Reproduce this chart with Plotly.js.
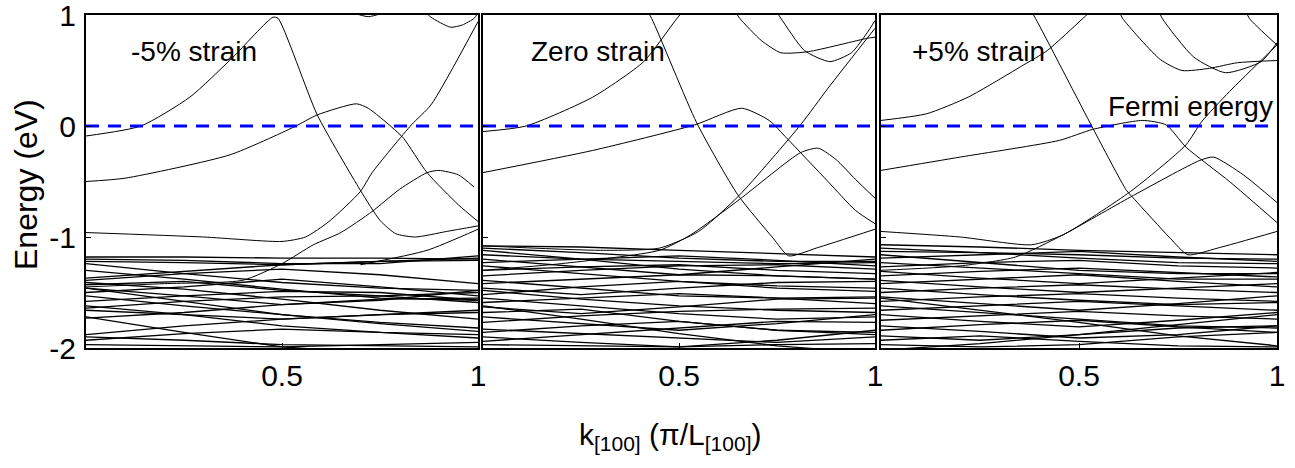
<!DOCTYPE html>
<html>
<head>
<meta charset="utf-8">
<script src="https://cdn.plot.ly/plotly-3.0.1.min.js"></script>
<style>html,body{margin:0;padding:0;background:#fff;} #plot{width:1295px;height:468px;}</style>
</head>
<body>
<div id="plot"></div>
<script>
// ---------- data (k in pi/L, energy in eV) ----------
const panelTitles = ["-5% strain", "Zero strain", "+5% strain"];
const fermiLabel = "Fermi energy";
const fermiK = [0, 1];
const fermiE = [0, 0];
const xTickVals = [0.5, 1];
const xTickText = ["0.5", "1"];
const yTickVals = [-2, -1, 0, 1];
const yTickText = ["-2", "-1", "0", "1"];
const denseK = [0, 0.25, 0.5, 0.75, 1];

// Panel 1 (-5% strain): upper bands, each [k-list, E-list]
const p1UpperK = [
  [0, 0.14, 0.265, 0.375, 0.477, 0.49, 0.59, 0.70, 0.75, 0.79, 0.84, 0.92, 1.0],
  [0, 0.1, 0.367, 0.53, 0.59, 0.69, 0.72, 0.78, 0.81, 0.87, 0.95, 1.0],
  [0, 0.3, 0.5, 0.56, 0.62, 0.70, 0.73, 0.83, 0.88, 1.0],
  [0, 0.2, 0.4, 0.5, 0.58, 0.65, 0.73, 0.80, 0.87, 0.90, 0.95, 0.99],
  [0.7, 0.87, 1.0],
  [0.86, 0.88, 0.93, 0.96, 0.99, 1.0],
  [0.68, 0.72, 0.76]
];
const p1UpperE = [
  [-0.09, 0, 0.26, 0.62, 0.98, 0.97, 0.10, -0.58, -0.85, -0.97, -1.0, -0.95, -0.90],
  [-0.50, -0.47, -0.26, -0.01, 0.10, 0.20, 0.16, -0.01, -0.11, -0.42, -0.71, -0.86],
  [-0.96, -1.0, -1.04, -1.0, -0.86, -0.59, -0.42, 0.01, 0.19, 0.94],
  [-1.45, -1.42, -1.39, -1.24, -1.07, -0.96, -0.77, -0.57, -0.42, -0.40, -0.44, -0.55],
  [-1.25, -1.12, -0.93],
  [1.05, 0.98, 0.89, 0.91, 0.97, 1.02],
  [1.02, 0.985, 1.02]
];
const p1Dense = [
  [-1.20, -1.21, -1.24, -1.24, -1.17],
  [-1.22, -1.23, -1.25, -1.22, -1.19],
  [-1.24, -1.33, -1.41, -1.46, -1.48],
  [-1.37, -1.31, -1.25, -1.22, -1.21],
  [-1.39, -1.33, -1.29, -1.34, -1.42],
  [-1.43, -1.40, -1.48, -1.53, -1.50],
  [-1.30, -1.38, -1.47, -1.55, -1.57],
  [-1.46, -1.53, -1.61, -1.57, -1.48],
  [-1.50, -1.45, -1.38, -1.45, -1.53],
  [-1.58, -1.53, -1.49, -1.50, -1.57],
  [-1.64, -1.58, -1.54, -1.53, -1.59],
  [-1.66, -1.70, -1.74, -1.70, -1.68],
  [-1.73, -1.68, -1.61, -1.56, -1.55],
  [-1.62, -1.70, -1.80, -1.86, -1.88],
  [-1.88, -1.80, -1.74, -1.70, -1.66],
  [-1.90, -1.93, -1.97, -1.98, -1.99],
  [-1.93, -1.87, -1.83, -1.86, -1.91],
  [-1.53, -1.62, -1.70, -1.77, -1.82],
  [-1.72, -1.86, -1.99, -2.05, -2.1],
  [-1.41, -1.47, -1.56, -1.66, -1.74],
  [-1.97, -1.98, -1.99, -1.97, -1.95],
  [-1.18, -1.18, -1.19, -1.19, -1.20],
  [-1.46, -1.58, -1.70, -1.78, -1.85]
];

// Panel 2 (zero strain)
const p2UpperK = [
  [0, 0.11, 0.28, 0.41, 0.495, 0.55],
  [0.40, 0.43, 0.545, 0.65, 0.74, 0.78, 0.85, 1.0],
  [0, 0.28, 0.54, 0.66, 0.73, 0.775, 0.88, 0.95, 1.0],
  [0, 0.2, 0.45, 0.53, 0.655, 0.81, 0.855, 0.90, 0.95, 1.0],
  [0, 0.3, 0.45, 0.55, 0.655, 0.81, 0.88, 1.0],
  [0.64, 0.655, 0.71, 0.76, 0.83, 0.98, 1.0],
  [0.745, 0.76, 0.82, 0.885, 0.94, 0.98, 1.0]
];
const p2UpperE = [
  [-0.05, 0, 0.26, 0.58, 0.97, 1.2],
  [1.15, 0.97, 0.03, -0.62, -1.01, -1.17, -1.10, -0.93],
  [-0.42, -0.22, 0.01, 0.16, 0.05, -0.11, -0.50, -0.76, -0.88],
  [-1.30, -1.24, -1.12, -0.98, -0.66, -0.24, -0.20, -0.30, -0.48, -0.65],
  [-1.08, -1.12, -1.10, -0.95, -0.62, 0.01, 0.34, 0.88],
  [1.05, 0.97, 0.77, 0.66, 0.67, 0.79, 0.80],
  [1.05, 0.97, 0.68, 0.58, 0.66, 0.84, 0.95]
];
const p2Dense = [
  [-1.08, -1.09, -1.12, -1.15, -1.18],
  [-1.10, -1.14, -1.19, -1.22, -1.22],
  [-1.12, -1.20, -1.29, -1.35, -1.38],
  [-1.16, -1.20, -1.22, -1.24, -1.23],
  [-1.23, -1.20, -1.17, -1.21, -1.26],
  [-1.26, -1.33, -1.40, -1.44, -1.46],
  [-1.30, -1.27, -1.25, -1.30, -1.33],
  [-1.35, -1.30, -1.26, -1.25, -1.29],
  [-1.39, -1.46, -1.53, -1.55, -1.54],
  [-1.42, -1.38, -1.34, -1.35, -1.38],
  [-1.46, -1.52, -1.46, -1.41, -1.40],
  [-1.52, -1.45, -1.40, -1.46, -1.49],
  [-1.55, -1.62, -1.69, -1.74, -1.72],
  [-1.59, -1.55, -1.51, -1.55, -1.60],
  [-1.63, -1.69, -1.63, -1.56, -1.55],
  [-1.68, -1.65, -1.76, -1.84, -1.86],
  [-1.72, -1.78, -1.84, -1.78, -1.70],
  [-1.77, -1.71, -1.67, -1.65, -1.64],
  [-1.83, -1.87, -1.91, -1.95, -1.90],
  [-1.86, -1.80, -1.76, -1.84, -1.88],
  [-1.90, -1.95, -1.99, -1.93, -1.84],
  [-1.94, -1.88, -1.82, -1.76, -1.77],
  [-1.97, -1.98, -1.99, -1.97, -1.96],
  [-1.20, -1.27, -1.34, -1.27, -1.20],
  [-1.48, -1.56, -1.62, -1.66, -1.68],
  [-1.62, -1.74, -1.87, -1.98, -2.05]
];

// Panel 3 (+5% strain)
const p3UpperK = [
  [0, 0.115, 0.22, 0.36, 0.42, 0.51, 0.55],
  [0.36, 0.39, 0.535, 0.62, 0.64, 0.73, 0.775, 0.85, 1.0],
  [0, 0.20, 0.45, 0.535, 0.66, 0.72, 0.77, 0.88, 1.0],
  [0, 0.2, 0.34, 0.46, 0.63, 0.805, 0.84, 0.915, 1.0],
  [0, 0.2, 0.38, 0.46, 0.63, 0.77, 0.81, 0.88, 1.0],
  [0.60, 0.61, 0.705, 0.76, 0.83, 0.9, 1.0],
  [0.70, 0.71, 0.79, 0.87, 0.96, 1.0],
  [0.92, 0.93, 1.0]
];
const p3UpperE = [
  [0.05, 0.11, 0.26, 0.55, 0.68, 0.97, 1.1],
  [1.15, 0.97, -0.02, -0.58, -0.66, -1.01, -1.16, -1.10, -0.95],
  [-0.40, -0.28, -0.13, -0.03, 0.05, 0.01, -0.19, -0.50, -0.87],
  [-1.30, -1.26, -1.18, -0.98, -0.64, -0.31, -0.28, -0.44, -0.69],
  [-0.95, -1.0, -1.07, -0.98, -0.59, -0.17, 0.04, 0.31, 0.73],
  [1.05, 0.97, 0.60, 0.50, 0.52, 0.57, 0.59],
  [1.05, 0.97, 0.62, 0.48, 0.58, 0.75],
  [1.05, 0.97, 0.73]
];
const p3Dense = [
  [-1.07, -1.09, -1.12, -1.14, -1.16],
  [-1.10, -1.14, -1.19, -1.23, -1.24],
  [-1.13, -1.14, -1.16, -1.19, -1.20],
  [-1.16, -1.23, -1.30, -1.33, -1.33],
  [-1.19, -1.16, -1.13, -1.18, -1.22],
  [-1.23, -1.28, -1.33, -1.38, -1.38],
  [-1.27, -1.23, -1.21, -1.26, -1.28],
  [-1.31, -1.37, -1.42, -1.37, -1.32],
  [-1.35, -1.31, -1.28, -1.32, -1.36],
  [-1.39, -1.45, -1.50, -1.46, -1.42],
  [-1.42, -1.38, -1.34, -1.40, -1.45],
  [-1.46, -1.52, -1.57, -1.61, -1.59],
  [-1.50, -1.46, -1.43, -1.47, -1.50],
  [-1.54, -1.60, -1.66, -1.60, -1.53],
  [-1.58, -1.54, -1.51, -1.55, -1.58],
  [-1.62, -1.68, -1.74, -1.80, -1.82],
  [-1.66, -1.62, -1.58, -1.62, -1.66],
  [-1.70, -1.76, -1.81, -1.75, -1.68],
  [-1.75, -1.71, -1.67, -1.71, -1.74],
  [-1.80, -1.85, -1.91, -1.88, -1.80],
  [-1.84, -1.79, -1.75, -1.81, -1.86],
  [-1.89, -1.93, -1.88, -1.82, -1.80],
  [-1.93, -1.89, -1.94, -1.98, -1.99],
  [-1.97, -1.99, -1.97, -1.90, -1.86],
  [-1.55, -1.66, -1.77, -1.89, -1.98],
  [-2.02, -1.96, -1.88, -1.79, -1.70]
];

// ---------- build traces ----------
const W = 1295, H = 468;
const FONT = "Liberation Sans, Arial, sans-serif";
const panels = [
  {upK: p1UpperK, upE: p1UpperE, dense: p1Dense, xa: "x", ya: "y"},
  {upK: p2UpperK, upE: p2UpperE, dense: p2Dense, xa: "x2", ya: "y2"},
  {upK: p3UpperK, upE: p3UpperE, dense: p3Dense, xa: "x3", ya: "y3"}
];
const traces = [];
panels.forEach(p => {
  p.dense.forEach(e => traces.push({
    x: denseK, y: e, xaxis: p.xa, yaxis: p.ya, mode: "lines",
    line: {color: "#000", width: 1.3}, hoverinfo: "skip", showlegend: false
  }));
  p.upK.forEach((k, i) => traces.push({
    x: k, y: p.upE[i], xaxis: p.xa, yaxis: p.ya, mode: "lines",
    line: {color: "#000", width: 1, shape: "spline", smoothing: 0.6}, hoverinfo: "skip", showlegend: false
  }));
  traces.push({
    x: fermiK, y: fermiE, xaxis: p.xa, yaxis: p.ya, mode: "lines",
    line: {color: "#0000ff", width: 3, dash: "13px,9px"}, hoverinfo: "skip", showlegend: false
  });
});

const px = v => v / W;
const py = v => 1 - v / H;
const yDom = [py(348), py(15)];
const xDoms = [[px(86), px(478)], [px(483), px(875)], [px(881), px(1277)]];

function xAxis(dom, anchor) {
  return {domain: dom, anchor: anchor, range: [0, 1], tickvals: xTickVals, ticktext: xTickText,
    showline: true, mirror: true, linecolor: "#000", linewidth: 2, ticks: "inside", ticklen: 5,
    tickcolor: "#000", showgrid: false, zeroline: false, tickfont: {family: FONT, size: 30, color: "#000"},
    ticklabelstandoff: 0, ticklabeloverflow: "allow"};
}
function yAxis(anchor, labels) {
  return {domain: yDom, anchor: anchor, range: [-2, 1], tickvals: yTickVals, ticktext: yTickText,
    showticklabels: labels, showline: true, mirror: true, linecolor: "#000", linewidth: 2,
    ticks: "inside", ticklen: 5, tickcolor: "#000", showgrid: false, zeroline: false,
    tickfont: {family: FONT, size: 30, color: "#000"}, ticklabelstandoff: 2, ticklabeloverflow: "allow"};
}

const annotations = [
  {text: panelTitles[0], x: px(194), y: py(51)},
  {text: panelTitles[1], x: px(598), y: py(51)},
  {text: panelTitles[2], x: px(978), y: py(51)},
  {text: fermiLabel, x: px(1190), y: py(107)},
].map(a => Object.assign(a, {xref: "paper", yref: "paper", showarrow: false,
  xanchor: "center", yanchor: "middle", font: {family: FONT, size: 28, color: "#000"}}));
annotations.push({text: "Energy (eV)", textangle: -90, x: px(26), y: py(185), xref: "paper", yref: "paper",
  showarrow: false, xanchor: "center", yanchor: "middle", font: {family: FONT, size: 32, color: "#000"}});
annotations.push({text: "k<sub>[100]</sub> (π/L<sub>[100]</sub>)", x: px(670), y: py(436), xref: "paper", yref: "paper",
  showarrow: false, xanchor: "center", yanchor: "middle", font: {family: FONT, size: 30, color: "#000"}});

const layout = {
  width: W, height: H, margin: {l: 0, r: 0, t: 0, b: 0},
  paper_bgcolor: "#fff", plot_bgcolor: "#fff", showlegend: false,
  xaxis: xAxis(xDoms[0], "y"), yaxis: yAxis("x", true),
  xaxis2: xAxis(xDoms[1], "y2"), yaxis2: yAxis("x2", false),
  xaxis3: xAxis(xDoms[2], "y3"), yaxis3: yAxis("x3", false),
  annotations: annotations
};
Plotly.newPlot("plot", traces, layout, {staticPlot: true});
</script>
</body>
</html>
